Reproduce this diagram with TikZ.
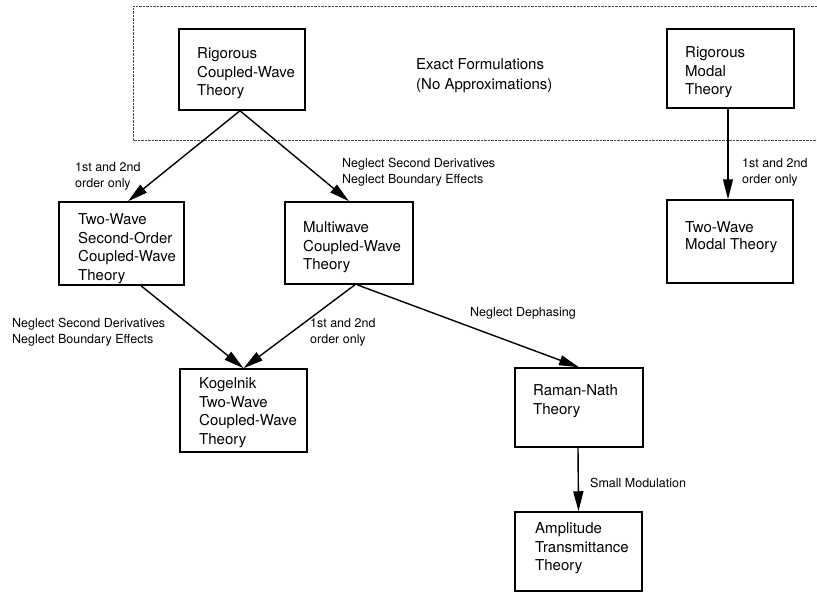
\documentclass[tikz,border=0pt]{standalone}
\usepackage{fontspec}
\setmainfont{TeX Gyre Heros}
\usetikzlibrary{arrows.meta}
\begin{document}
\begin{tikzpicture}[x=1pt,y=-1pt,
  box/.style={draw, line width=1.5pt, inner sep=0pt},
  boxtext/.style={anchor=north west, inner sep=0pt, align=left, font=\fontsize{15}{18.5}\selectfont},
  lbl/.style={anchor=north west, inner sep=0pt, align=left, font=\fontsize{12.5}{16}\selectfont},
  conn/.style={line width=1.4pt, -{Triangle[length=20pt,width=10pt]}},
  framed/.style={line width=0.8pt, dash pattern=on 2.5pt off 1pt, black!70}]
\useasboundingbox (0,0) rectangle (817,594);

% frame around the exact formulations (open on the right)
\coordinate (fr1) at (817,6);
\coordinate (fr2) at (133,6);
\coordinate (fr3) at (133,140);
\coordinate (fr4) at (817,140);
\draw[framed] (fr1) -- (fr2) -- (fr3) -- (fr4);

% theory boxes
\node[box, minimum width=126pt, minimum height=81pt] (rcw)   at (242,69.5)  {};
\node[box, minimum width=127pt, minimum height=79pt] (rmt)   at (730.5,68.5) {};
\node[box, minimum width=125pt, minimum height=83pt] (twso)  at (121.5,243.5) {};
\node[box, minimum width=128pt, minimum height=82pt] (mcw)   at (349,243) {};
\node[box, minimum width=126pt, minimum height=83pt] (twm)   at (730,241.5) {};
\node[box, minimum width=127pt, minimum height=83pt] (kog)   at (243.5,410.5) {};
\node[box, minimum width=128pt, minimum height=79pt] (raman) at (579,407.5) {};
\node[box, minimum width=127pt, minimum height=79pt] (amp)   at (578.5,551.5) {};

% box texts
\node[boxtext] (rcwt)   at (197,45.5)  {\strut Rigorous\\Coupled-Wave\\Theory};
\node[boxtext] (rmtt)   at (685,44.5)  {\strut Rigorous\\Modal\\Theory};
\node[boxtext] (twsot)  at (78,211.5)  {\strut Two-Wave\\Second-Order\\Coupled-Wave\\Theory};
\node[boxtext] (mcwt)   at (303,219.5) {\strut Multiwave\\Coupled-Wave\\Theory};
\node[boxtext, font=\fontsize{15}{17}\selectfont] (twmt) at (685,220.5) {\strut Two-Wave\\Modal Theory};
\node[boxtext] (kogt)   at (199,375.5) {\strut Kogelnik\\Two-Wave\\Coupled-Wave\\Theory};
\node[boxtext] (ramant) at (533,382.5) {\strut Raman-Nath\\Theory};
\node[boxtext] (ampt)   at (535,520.5) {\strut Amplitude\\Transmittance\\Theory};
\node[boxtext, font=\fontsize{15}{20}\selectfont] (exact) at (416,55.5) {\strut Exact Formulations\\(No Approximations)};

% connectors
\draw[conn] ([xshift=-2pt]rcw.south) -- ([xshift=6.5pt]twso.north);
\draw[conn] ([xshift=-2pt]rcw.south) -- (mcw.north);
\draw[conn] ([xshift=-2.5pt]rmt.south) -- ([xshift=-2pt]twm.north);
\draw[conn] ([xshift=19.5pt]twso.south) -- (kog.north);
\draw[conn] ([xshift=6pt]mcw.south) -- (kog.north);
\draw[conn] ([xshift=8pt]mcw.south) -- (raman.north);
\draw[conn] ([xshift=-1pt]raman.south) -- (amp.north);

% connector labels
\node[lbl] (l1) at (75,160.5)  {\strut 1st and 2nd\\order only};
\node[lbl] (l2) at (342,156.5) {\strut Neglect Second Derivatives\\Neglect Boundary Effects};
\node[lbl] (l3) at (742,156.5) {\strut 1st and 2nd\\order only};
\node[lbl] (l4) at (12,316.5)  {\strut Neglect Second Derivatives\\Neglect Boundary Effects};
\node[lbl] (l5) at (310,316.5) {\strut 1st and 2nd\\order only};
\node[lbl] (l6) at (470,305.5) {\strut Neglect Dephasing};
\node[lbl] (l7) at (590,476.5) {\strut Small Modulation};
\end{tikzpicture}
\end{document}
